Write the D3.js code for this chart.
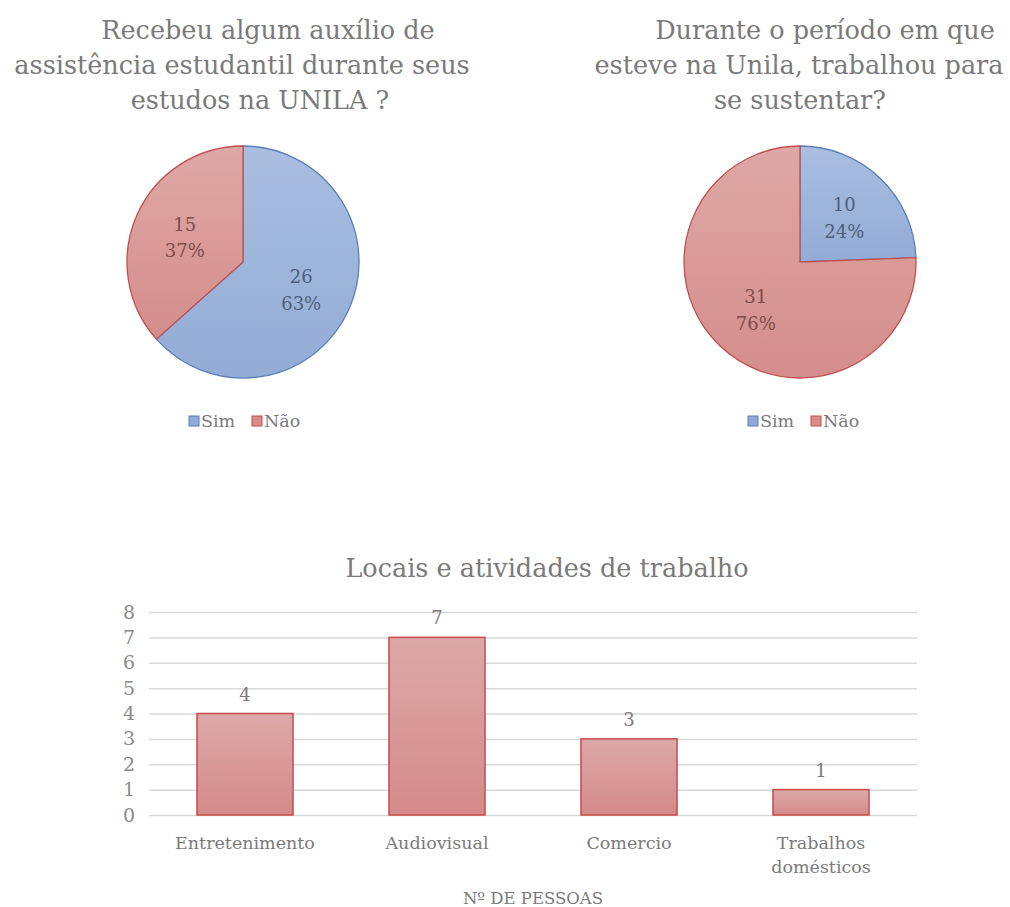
<!DOCTYPE html>
<html>
<head>
<meta charset="utf-8">
<script src="https://cdn.jsdelivr.net/npm/d3@7"></script>
<style>
  body { margin: 0; background: #fff; }
  svg text { font-family: "DejaVu Serif", serif; fill: #7a7a7a; }
</style>
</head>
<body>
<svg id="chart" width="1010" height="907"></svg>
<script>
// pie 1 : auxílio
var pie1Labels = ["Sim", "Não"];
var pie1Values = [26, 15];
var pie1Title = ["Recebeu algum auxílio de", "assistência estudantil durante seus", "estudos na UNILA ?"];

// pie 2 : trabalhou
var pie2Labels = ["Sim", "Não"];
var pie2Values = [10, 31];
var pie2Title = ["Durante o período em que", "esteve na Unila, trabalhou para", "se sustentar?"];

// bars
var barCategories = [["Entretenimento"], ["Audiovisual"], ["Comercio"], ["Trabalhos", "domésticos"]];
var barValues = [4, 7, 3, 1];
var barTicks = [0, 1, 2, 3, 4, 5, 6, 7, 8];
var barTitle = "Locais e atividades de trabalho";
var barAxisTitle = "Nº DE PESSOAS";

var svg = d3.select("#chart");
var defs = svg.append("defs");

function grad(id, c1, c2) {
  var g = defs.append("linearGradient").attr("id", id)
    .attr("x1", 0).attr("y1", 0).attr("x2", 0).attr("y2", 1);
  g.append("stop").attr("offset", "0%").attr("stop-color", c1);
  g.append("stop").attr("offset", "100%").attr("stop-color", c2);
}
grad("gBlue", "#a9bee0", "#93acd6");
grad("gRed", "#dea8a6", "#d48d8b");
grad("gBar", "#dca9a8", "#d48a89");

var sliceFill = { "Sim": "url(#gBlue)", "Não": "url(#gRed)" };
var sliceStroke = { "Sim": "#5a7fb8", "Não": "#c0504d" };
var labelColor = { "Sim": "#4e5f7c", "Não": "#7d4b4a" };
var legendFill = { "Sim": "#8eaad6", "Não": "#d98b89" };

function drawPie(cx, cy, r, labels, values, title, titleXs, legendX) {
  var g = svg.append("g");

  g.selectAll(".title").data(title).enter().append("text")
    .attr("x", function (d, i) { return titleXs[i]; })
    .attr("y", function (d, i) { return 39 + i * 35; })
    .attr("text-anchor", "middle")
    .style("font-size", "25.5px")
    .text(function (d) { return d; });

  var data = labels.map(function (l, i) { return { label: l, value: values[i] }; });
  var total = d3.sum(values);
  var pie = d3.pie().sort(null).value(function (d) { return d.value; });
  var arc = d3.arc().innerRadius(0).outerRadius(r);
  var labelArc = d3.arc().innerRadius(r * 0.55).outerRadius(r * 0.55);

  var pg = g.append("g").attr("transform", "translate(" + cx + "," + cy + ")");
  var arcs = pie(data);
  pg.selectAll("path").data(arcs).enter().append("path")
    .attr("d", arc)
    .attr("fill", function (d) { return sliceFill[d.data.label]; })
    .attr("stroke", function (d) { return sliceStroke[d.data.label]; })
    .attr("stroke-width", 1.3);

  pg.selectAll(".lbl").data(arcs).enter().append("text")
    .attr("transform", function (d) { return "translate(" + labelArc.centroid(d) + ")"; })
    .attr("text-anchor", "middle")
    .style("font-size", "18px")
    .style("fill", function (d) { return labelColor[d.data.label]; })
    .each(function (d) {
      var t = d3.select(this);
      t.append("tspan").attr("x", 0).attr("dy", "-0.3em").text(d.data.value);
      t.append("tspan").attr("x", 0).attr("dy", "1.5em")
        .text(Math.round(d.data.value / total * 100) + "%");
    });

  // legend
  var lg = g.append("g").attr("transform", "translate(" + legendX + ",421)");
  var offs = [0, 63];
  labels.forEach(function (l, i) {
    lg.append("rect").attr("x", offs[i]).attr("y", -5).attr("width", 10).attr("height", 10)
      .attr("fill", legendFill[l]).attr("stroke", sliceStroke[l]).attr("stroke-width", 1);
    lg.append("text").attr("x", offs[i] + 12).attr("y", 0).attr("dy", "0.35em")
      .style("font-size", "17.5px").text(l);
  });
}

drawPie(243, 262, 116, pie1Labels, pie1Values, pie1Title, [268, 242, 260], 189);
drawPie(800, 262, 116, pie2Labels, pie2Values, pie2Title, [825, 799, 800], 748);

// ---- bar chart ----
var x = d3.scaleBand().domain(d3.range(barValues.length)).range([149, 917]).paddingInner(0.5).paddingOuter(0.25);
var y = d3.scaleLinear().domain([0, 8]).range([815, 612]);

svg.append("text").attr("x", 547).attr("y", 577).attr("text-anchor", "middle")
  .style("font-size", "25.5px").text(barTitle);

var yAxis = d3.axisLeft(y).tickValues(barTicks).tickSize(-(917 - 149)).tickPadding(14);
var ya = svg.append("g").attr("transform", "translate(149,0)").call(yAxis);
ya.select(".domain").remove();
ya.selectAll(".tick line").attr("stroke", "#d9d9d9").attr("stroke-width", 1.5);
ya.selectAll(".tick text").style("font-size", "19px").style("font-family", "DejaVu Serif, serif")
  .style("fill", "#8a8a8a");

svg.selectAll(".bar").data(barValues).enter().append("rect")
  .attr("class", "bar")
  .attr("x", function (d, i) { return x(i); })
  .attr("y", function (d) { return y(d); })
  .attr("width", x.bandwidth())
  .attr("height", function (d) { return y(0) - y(d); })
  .attr("fill", "url(#gBar)")
  .attr("stroke", "#c9504f")
  .attr("stroke-width", 1.6);

svg.selectAll(".barlbl").data(barValues).enter().append("text")
  .attr("x", function (d, i) { return x(i) + x.bandwidth() / 2; })
  .attr("y", function (d) { return y(d) - 13; })
  .attr("text-anchor", "middle")
  .style("font-size", "18px")
  .text(function (d) { return d; });

svg.selectAll(".cat").data(barCategories).enter().append("text")
  .attr("x", function (d, i) { return x(i) + x.bandwidth() / 2; })
  .attr("y", 849)
  .attr("text-anchor", "middle")
  .style("font-size", "17.5px")
  .each(function (d) {
    var t = d3.select(this);
    d.forEach(function (s, j) {
      t.append("tspan").attr("x", t.attr("x")).attr("dy", j === 0 ? 0 : "1.35em").text(s);
    });
  });

svg.append("text").attr("x", 533).attr("y", 904).attr("text-anchor", "middle")
  .style("font-size", "16.5px").text(barAxisTitle);
</script>
</body>
</html>
